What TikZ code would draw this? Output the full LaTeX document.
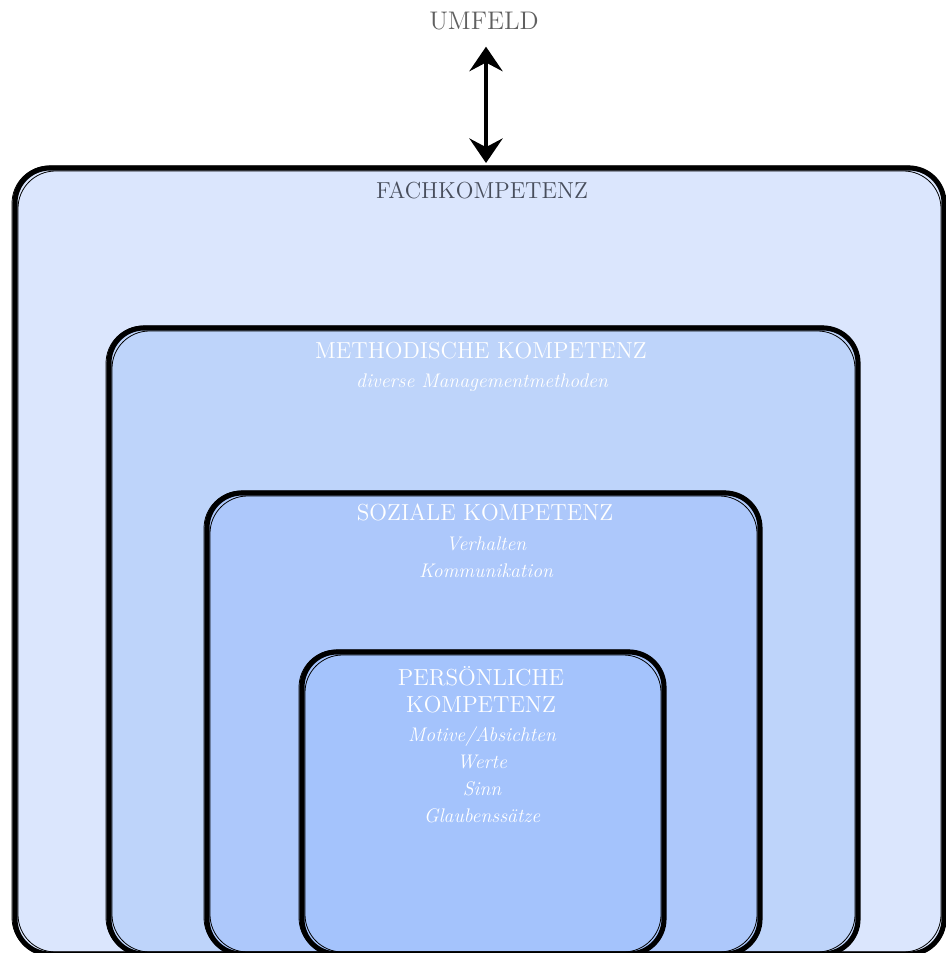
\documentclass[tikz,border=0pt]{standalone}
\usetikzlibrary{arrows.meta}
\definecolor{fachblue}{RGB}{219,230,253}
\definecolor{methblue}{RGB}{190,212,250}
\definecolor{sozblue}{RGB}{173,200,251}
\definecolor{persblue}{RGB}{164,195,252}
\definecolor{umgray}{RGB}{96,96,96}
\definecolor{fachgray}{RGB}{72,78,92}
\begin{document}
\begin{tikzpicture}[x=0.02cm,y=-0.02cm,
  rough/.style={line width=2.9pt,rounded corners=0.7cm},
  scrib/.style={line width=0.45pt,rounded corners=0.75cm},
  head/.style={font=\fontsize{13.2}{15.3}\selectfont,align=center,text=white},
  sub/.style={font=\fontsize{11.2}{15.3}\selectfont\itshape,align=center,text=white}]
\useasboundingbox (0,0) rectangle (946,953);
\clip (0,0) rectangle (946,953);
% nested competence boxes
\filldraw[rough,fill=fachblue] (15,168) rectangle (944,954);
\filldraw[rough,fill=methblue] (109,328) rectangle (858,954);
\filldraw[rough,fill=sozblue] (207,493) rectangle (760,954);
\filldraw[rough,fill=persblue] (302,652) rectangle (664,954);
\foreach \xa/\ya/\xb/\yb in {15/168/944/954,109/328/858/954,207/493/760/954,302/652/664/954}
{
  \draw[scrib] (\xa-3,\ya-2) rectangle (\xb+1,\yb+1);
  \draw[scrib] (\xa+3,\ya+3) rectangle (\xb-3,\yb-2);
}
% labels
\node[head,font=\fontsize{14.5}{16}\selectfont,text=umgray] (umfeld) at (484,21) {UMFELD};
\node[head,text=fachgray] (fach) at (482,190) {FACHKOMPETENZ};
\node[head] (method) at (481,351) {METHODISCHE KOMPETENZ};
\node[sub] (methodnote) at (482,383) {diverse Managementmethoden};
\node[head] (sozial) at (485,512) {SOZIALE KOMPETENZ};
\node[sub] (sozialnote) at (486,557) {Verhalten\\Kommunikation};
\node[head] (pers) at (481,690) {PERSÖNLICHE\\KOMPETENZ};
\node[sub] (persnote) at (482,775) {Motive/Absichten\\Werte\\Sinn\\Glaubenssätze};
% link to the surroundings
\coordinate (fachtop) at (486,163);
\draw[line width=1.8pt,shorten <=6pt,
  {Stealth[length=14pt,width=19pt,inset=5pt]}-{Stealth[length=14pt,width=19pt,inset=5pt]}]
  (umfeld.south -| fachtop) -- (fachtop);
\end{tikzpicture}
\end{document}
